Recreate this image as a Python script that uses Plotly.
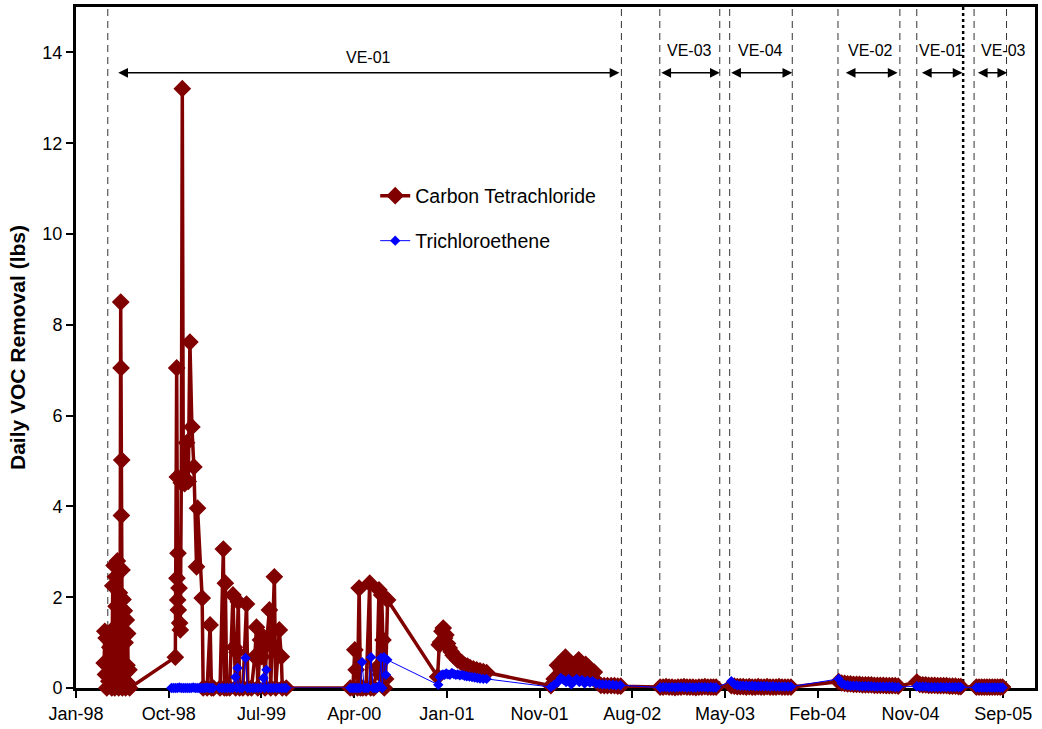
import plotly.graph_objects as go
import pandas as pd

# ---------------- Carbon tetrachloride, daily removal (lbs) ----------------
ct_dates = (
    # VE-01, spring 1998
    ["1998-03-27", "1998-03-29", "1998-03-31", "1998-04-02", "1998-04-04", "1998-04-06", "1998-04-08", "1998-04-10", "1998-04-13", "1998-04-16",
     "1998-04-19", "1998-04-22", "1998-04-24", "1998-04-26", "1998-04-28", "1998-04-30", "1998-05-02", "1998-05-04", "1998-05-06", "1998-05-08",
     "1998-05-10", "1998-05-12", "1998-05-14", "1998-05-16", "1998-05-17", "1998-05-18", "1998-05-19", "1998-05-20", "1998-05-21", "1998-05-23",
     "1998-05-25", "1998-05-27", "1998-05-29", "1998-05-31", "1998-06-02", "1998-06-04", "1998-06-06", "1998-06-08", "1998-06-10", "1998-06-12"]
    # fall 1998 - winter 1999
    + ["1998-10-28", "1998-11-01", "1998-11-02", "1998-11-03", "1998-11-04", "1998-11-05", "1998-11-06", "1998-11-08", "1998-11-10", "1998-11-12",
       "1998-11-15", "1998-11-18", "1998-11-21", "1998-11-25", "1998-12-01", "1998-12-06", "1998-12-11", "1998-12-17", "1998-12-23", "1998-12-31",
       "1999-01-03", "1999-01-17", "1999-01-20", "1999-02-01", "1999-02-10", "1999-02-14", "1999-02-20"]
    # spring - summer 1999
    + ["1999-03-12", "1999-03-22", "1999-03-25", "1999-03-28", "1999-04-01", "1999-04-10", "1999-04-20", "1999-04-24", "1999-04-28", "1999-05-02",
       "1999-05-06", "1999-05-10", "1999-05-20", "1999-05-31", "1999-06-04", "1999-06-15", "1999-06-25", "1999-06-30", "1999-07-04", "1999-07-12",
       "1999-07-16", "1999-07-22", "1999-07-26", "1999-07-30", "1999-08-08", "1999-08-12", "1999-08-23", "1999-08-27", "1999-09-07", "1999-09-13",
       "1999-09-16", "1999-09-28"]
    # spring - summer 2000
    + ["2000-04-08", "2000-04-16", "2000-04-22", "2000-04-26", "2000-04-30", "2000-05-05", "2000-05-09", "2000-05-16", "2000-05-26", "2000-06-06",
       "2000-06-09", "2000-06-18", "2000-06-28", "2000-07-04", "2000-07-08", "2000-07-12", "2000-07-16", "2000-07-20", "2000-07-24", "2000-07-30"]
    # winter 2000 - spring 2001
    + ["2000-12-28", "2001-01-02", "2001-01-06", "2001-01-10", "2001-01-14", "2001-01-18", "2001-01-22", "2001-01-27", "2001-02-01", "2001-02-07",
       "2001-02-13", "2001-02-19", "2001-02-26", "2001-03-05", "2001-03-12", "2001-03-20", "2001-03-28", "2001-04-05", "2001-04-15", "2001-04-25",
       "2001-05-05", "2001-05-15", "2001-05-25"]
    # winter 2001 - summer 2002
    + ["2001-12-05", "2001-12-15", "2001-12-25", "2002-01-05", "2002-01-12", "2002-01-18", "2002-01-24", "2002-01-30", "2002-02-05", "2002-02-12",
       "2002-02-20", "2002-02-27", "2002-03-06", "2002-03-13", "2002-03-20", "2002-03-28", "2002-04-05", "2002-04-15", "2002-04-25", "2002-05-05",
       "2002-05-15", "2002-05-25", "2002-06-05", "2002-06-15", "2002-06-25", "2002-07-04"]
    # VE-03
    + ["2002-10-31", "2002-11-09", "2002-11-18", "2002-11-27", "2002-12-06", "2002-12-15", "2002-12-24", "2003-01-02", "2003-01-11", "2003-01-20",
       "2003-01-29", "2003-02-07", "2003-02-16", "2003-02-25", "2003-03-06", "2003-03-15", "2003-03-24", "2003-04-02", "2003-04-10", "2003-04-18"]
    # VE-04
    + ["2003-06-03", "2003-06-12", "2003-06-21", "2003-06-30", "2003-07-09", "2003-07-18", "2003-07-27", "2003-08-05", "2003-08-14", "2003-08-23",
       "2003-09-01", "2003-09-10", "2003-09-19", "2003-09-28", "2003-10-07", "2003-10-16", "2003-10-25", "2003-11-03", "2003-11-12", "2003-11-21",
       "2003-11-30"]
    # VE-02
    + ["2004-04-22", "2004-05-01", "2004-05-10", "2004-05-19", "2004-05-28", "2004-06-06", "2004-06-15", "2004-06-24", "2004-07-03", "2004-07-12",
       "2004-07-21", "2004-07-30", "2004-08-08", "2004-08-17", "2004-08-26", "2004-09-04", "2004-09-13", "2004-09-22", "2004-10-01", "2004-10-10",
       "2004-10-19"]
    # VE-01
    + ["2004-12-14", "2004-12-23", "2005-01-01", "2005-01-10", "2005-01-19", "2005-01-28", "2005-02-06", "2005-02-15", "2005-02-24", "2005-03-05",
       "2005-03-14", "2005-03-23", "2005-04-01", "2005-04-10", "2005-04-19", "2005-04-26"]
    # VE-03
    + ["2005-06-12", "2005-06-20", "2005-06-28", "2005-07-06", "2005-07-14", "2005-07-22", "2005-07-30", "2005-08-07", "2005-08-15", "2005-08-23",
       "2005-08-30"]
)

ct_lbs = (
    [0.55, 1.25, 0.30, 1.10, 0.00, 0.60, 1.20, 0.15, 0.90, 1.25,
     0.00, 2.25, 0.40, 2.70, 0.00, 2.45, 1.80, 0.05, 2.80, 1.40,
     0.00, 2.10, 0.70, 8.50, 7.05, 3.80, 5.02, 2.60, 0.00, 1.95,
     0.30, 1.70, 1.00, 0.00, 1.50, 0.50, 1.20, 0.10, 0.40, 0.00]
    + [0.68, 7.05, 2.42, 4.65, 1.94, 2.97, 1.72, 2.20, 1.43, 1.28,
       4.52, 13.20, 4.60, 4.50, 5.40, 4.55, 7.62, 5.75, 4.87, 2.67,
       3.96, 1.98, 0.00, 0.00, 1.39, 0.00, 0.00]
    + [0.00, 3.06, 0.00, 2.31, 0.00, 0.00, 2.05, 0.90, 0.00, 0.79,
       1.90, 0.00, 0.00, 1.85, 0.00, 0.00, 0.69, 1.34, 0.00, 1.06,
       0.69, 1.12, 0.00, 0.95, 1.72, 0.00, 2.45, 0.00, 1.28, 0.69,
       0.00, 0.00]
    + [0.00, 0.00, 0.84, 0.40, 0.00, 2.20, 0.00, 0.00, 0.00, 2.31,
       0.00, 0.00, 0.45, 2.16, 0.30, 2.05, 1.06, 0.00, 0.20, 1.94]
    + [0.25, 0.95, 1.01, 1.25, 1.32, 1.10, 1.17, 0.98, 0.88, 0.80,
       0.72, 0.68, 0.62, 0.60, 0.55, 0.50, 0.48, 0.45, 0.42, 0.40,
       0.38, 0.36, 0.34]
    + [0.05, 0.20, 0.50, 0.40, 0.62, 0.68, 0.45, 0.30, 0.20, 0.35,
       0.55, 0.62, 0.40, 0.35, 0.52, 0.46, 0.30, 0.35, 0.12, 0.06,
       0.05, 0.05, 0.05, 0.05, 0.04, 0.04]
    + [0.02, 0.02, 0.03, 0.02, 0.02, 0.01, 0.02, 0.02, 0.03, 0.02,
       0.02, 0.02, 0.01, 0.02, 0.02, 0.03, 0.02, 0.02, 0.02, 0.02]
    + [0.05, 0.04, 0.03, 0.03, 0.03, 0.02, 0.03, 0.02, 0.02, 0.03,
       0.02, 0.02, 0.03, 0.02, 0.02, 0.02, 0.03, 0.02, 0.02, 0.02,
       0.02]
    + [0.14, 0.11, 0.10, 0.09, 0.09, 0.08, 0.08, 0.08, 0.07, 0.07,
       0.07, 0.07, 0.06, 0.06, 0.06, 0.06, 0.05, 0.05, 0.05, 0.05,
       0.04]
    + [0.13, 0.08, 0.07, 0.07, 0.06, 0.06, 0.06, 0.05, 0.05, 0.05,
       0.05, 0.04, 0.04, 0.04, 0.03, 0.03]
    + [0.02, 0.02, 0.02, 0.02, 0.02, 0.02, 0.02, 0.02, 0.02, 0.02,
       0.02]
)

# ---------------- Trichloroethene, daily removal (lbs) ----------------
tce_dates = (
    ["1998-10-16", "1998-10-22", "1998-10-28", "1998-11-03", "1998-11-09", "1998-11-15", "1998-11-21", "1998-11-27", "1998-12-03", "1998-12-09",
     "1998-12-15", "1998-12-21", "1998-12-27", "1999-01-02", "1999-01-08", "1999-01-14", "1999-01-20", "1999-01-26", "1999-02-01", "1999-02-07",
     "1999-02-13", "1999-02-19"]
    + ["1999-03-10", "1999-03-18", "1999-03-26", "1999-04-03", "1999-04-11", "1999-04-19", "1999-04-27", "1999-05-01", "1999-05-04", "1999-05-10",
       "1999-05-18", "1999-05-28", "1999-06-03", "1999-06-11", "1999-06-19", "1999-06-27", "1999-07-05", "1999-07-13", "1999-07-21", "1999-07-25",
       "1999-07-30", "1999-08-05", "1999-08-13", "1999-08-21", "1999-08-29", "1999-09-06", "1999-09-14", "1999-09-22", "1999-09-28"]
    + ["2000-04-08", "2000-04-14", "2000-04-20", "2000-04-26", "2000-05-02", "2000-05-08", "2000-05-14", "2000-05-20", "2000-05-26", "2000-06-01",
       "2000-06-10", "2000-06-16", "2000-06-22", "2000-06-28", "2000-07-04", "2000-07-10", "2000-07-14", "2000-07-19", "2000-07-25", "2000-07-29"]
    + ["2000-12-30", "2001-01-03", "2001-01-08", "2001-01-13", "2001-01-18", "2001-01-23", "2001-01-28", "2001-02-03", "2001-02-09", "2001-02-15",
       "2001-02-21", "2001-02-27", "2001-03-05", "2001-03-12", "2001-03-19", "2001-03-26", "2001-04-03", "2001-04-11", "2001-04-19", "2001-04-27",
       "2001-05-05", "2001-05-15", "2001-05-25"]
    + ["2001-12-05", "2001-12-15", "2001-12-25", "2002-01-04", "2002-01-12", "2002-01-20", "2002-01-28", "2002-02-05", "2002-02-13", "2002-02-21",
       "2002-03-01", "2002-03-09", "2002-03-17", "2002-03-25", "2002-04-02", "2002-04-10", "2002-04-20", "2002-04-30", "2002-05-10", "2002-05-20",
       "2002-05-30", "2002-06-10", "2002-06-20", "2002-07-03"]
    + ["2002-10-31", "2002-11-09", "2002-11-18", "2002-11-27", "2002-12-06", "2002-12-15", "2002-12-24", "2003-01-02", "2003-01-11", "2003-01-20",
       "2003-01-29", "2003-02-07", "2003-02-16", "2003-02-25", "2003-03-06", "2003-03-15", "2003-03-24", "2003-04-02", "2003-04-10", "2003-04-18"]
    + ["2003-06-03", "2003-06-12", "2003-06-21", "2003-06-30", "2003-07-09", "2003-07-18", "2003-07-27", "2003-08-05", "2003-08-14", "2003-08-23",
       "2003-09-01", "2003-09-10", "2003-09-19", "2003-09-28", "2003-10-07", "2003-10-16", "2003-10-25", "2003-11-03", "2003-11-12", "2003-11-21",
       "2003-11-30"]
    + ["2004-04-22", "2004-05-01", "2004-05-10", "2004-05-19", "2004-05-28", "2004-06-06", "2004-06-15", "2004-06-24", "2004-07-03", "2004-07-12",
       "2004-07-21", "2004-07-30", "2004-08-08", "2004-08-17", "2004-08-26", "2004-09-04", "2004-09-13", "2004-09-22", "2004-10-01", "2004-10-10",
       "2004-10-19"]
    + ["2004-12-14", "2004-12-23", "2005-01-01", "2005-01-10", "2005-01-19", "2005-01-28", "2005-02-06", "2005-02-15", "2005-02-24", "2005-03-05",
       "2005-03-14", "2005-03-23", "2005-04-01", "2005-04-10", "2005-04-19", "2005-04-26"]
    + ["2005-06-12", "2005-06-20", "2005-06-28", "2005-07-06", "2005-07-14", "2005-07-22", "2005-07-30", "2005-08-07", "2005-08-15", "2005-08-23",
       "2005-08-30"]
)

tce_lbs = (
    [0.00, 0.00, 0.00, 0.00, 0.01, 0.00, 0.00, 0.00, 0.00, 0.00,
     0.00, 0.01, 0.00, 0.00, 0.00, 0.00, 0.00, 0.00, 0.01, 0.00,
     0.00, 0.00]
    + [0.00, 0.00, 0.00, 0.00, 0.00, 0.00, 0.24, 0.00, 0.44, 0.00,
       0.00, 0.66, 0.00, 0.00, 0.00, 0.00, 0.00, 0.00, 0.22, 0.00,
       0.40, 0.00, 0.00, 0.00, 0.00, 0.00, 0.00, 0.00, 0.00]
    + [0.00, 0.00, 0.00, 0.00, 0.00, 0.00, 0.57, 0.00, 0.00, 0.00,
       0.68, 0.00, 0.00, 0.00, 0.05, 0.66, 0.00, 0.68, 0.29, 0.62]
    + [0.07, 0.24, 0.28, 0.30, 0.29, 0.32, 0.30, 0.29, 0.33, 0.31,
       0.29, 0.30, 0.28, 0.29, 0.27, 0.26, 0.25, 0.24, 0.23, 0.22,
       0.21, 0.20, 0.20]
    + [0.02, 0.07, 0.12, 0.22, 0.18, 0.13, 0.20, 0.08, 0.15, 0.20,
       0.13, 0.18, 0.10, 0.16, 0.12, 0.15, 0.10, 0.09, 0.08, 0.08,
       0.07, 0.07, 0.06, 0.06]
    + [0.01, 0.02, 0.02, 0.01, 0.02, 0.01, 0.02, 0.02, 0.02, 0.01,
       0.02, 0.01, 0.01, 0.02, 0.02, 0.02, 0.01, 0.02, 0.01, 0.01]
    + [0.15, 0.08, 0.06, 0.05, 0.05, 0.05, 0.04, 0.05, 0.04, 0.04,
       0.04, 0.04, 0.04, 0.03, 0.04, 0.03, 0.03, 0.03, 0.03, 0.03,
       0.03]
    + [0.20, 0.10, 0.07, 0.06, 0.05, 0.05, 0.05, 0.04, 0.04, 0.04,
       0.04, 0.04, 0.03, 0.03, 0.03, 0.03, 0.03, 0.03, 0.03, 0.02,
       0.02]
    + [0.04, 0.03, 0.03, 0.03, 0.02, 0.02, 0.02, 0.02, 0.02, 0.02,
       0.02, 0.02, 0.02, 0.02, 0.02, 0.02]
    + [0.01, 0.01, 0.01, 0.01, 0.01, 0.01, 0.01, 0.01, 0.01, 0.01,
       0.01]
)

assert len(ct_dates) == len(ct_lbs)
assert len(tce_dates) == len(tce_lbs)

# ---------------- Extraction well operating periods ----------------
boundary_dates = ["1998-04-07", "2002-07-06", "2002-10-30", "2003-04-29", "2003-05-29",
                  "2003-12-04", "2004-04-20", "2004-10-24", "2004-12-14", "2005-06-05",
                  "2005-09-11"]
switch_date = "2005-05-03"   # well changeover marked with a dotted line

phase_names = ["VE-01", "VE-03", "VE-04", "VE-02", "VE-01", "VE-03"]
phase_start = ["1998-05-04", "2002-10-30", "2003-05-29", "2004-05-09", "2004-12-25", "2005-06-12"]
phase_end = ["2002-06-30", "2003-04-29", "2003-12-04", "2004-10-17", "2005-05-01", "2005-09-13"]

# ---------------- Figure ----------------
FONT = "Liberation Sans, Arial, Helvetica, sans-serif"
ARROW_Y = 13.55
LABEL_Y = [13.88, 14.05, 14.05, 14.05, 14.05, 14.05]
LABEL_SHIFT = [0, 0, 0, 0, 0, 12]

fig = go.Figure()

fig.add_trace(go.Scatter(
    x=ct_dates, y=ct_lbs, mode="lines+markers", name="Carbon Tetrachloride",
    line=dict(color="#800000", width=3.5),
    marker=dict(symbol="diamond", size=12, color="#800000", line=dict(color="#800000", width=1.5)),
    cliponaxis=False, legend="legend", showlegend=True,
))
fig.add_trace(go.Scatter(
    x=tce_dates, y=tce_lbs, mode="lines+markers", name="Trichloroethene",
    line=dict(color="#0000FF", width=1),
    marker=dict(symbol="diamond", size=8, color="#0000FF"),
    cliponaxis=False, legend="legend2", showlegend=True,
))

shapes = []
for d in boundary_dates:
    shapes.append(dict(type="line", xref="x", yref="paper", x0=d, x1=d, y0=0, y1=1,
                       line=dict(color="#333333", width=1, dash="7px,5px"), layer="below"))
shapes.append(dict(type="line", xref="x", yref="paper", x0=switch_date, x1=switch_date, y0=0, y1=1,
                   line=dict(color="black", width=2.5, dash="3px,3px"), layer="below"))

annotations = []
for name, s, e, ly, sh in zip(phase_names, phase_start, phase_end, LABEL_Y, LABEL_SHIFT):
    annotations.append(dict(x=e, y=ARROW_Y, ax=s, ay=ARROW_Y, xref="x", yref="y", axref="x", ayref="y",
                            text="", showarrow=True, arrowhead=2, arrowside="end+start",
                            arrowsize=1.3, arrowwidth=1.5, arrowcolor="black"))
    mid = pd.Timestamp(s) + (pd.Timestamp(e) - pd.Timestamp(s)) / 2
    annotations.append(dict(x=mid.strftime("%Y-%m-%d"), y=ly, xref="x", yref="y", text=name,
                            showarrow=False, xshift=sh, font=dict(family=FONT, size=16, color="black")))

legend_style = dict(xanchor="left", yanchor="middle", bgcolor="rgba(0,0,0,0)",
                    font=dict(family=FONT, size=19.5, color="black"))

fig.update_layout(
    width=1042, height=729,
    margin=dict(l=76, r=4, t=7, b=41),
    paper_bgcolor="white", plot_bgcolor="white",
    font=dict(family=FONT, size=18, color="black"),
    showlegend=True,
    shapes=shapes, annotations=annotations,
    legend=dict(x=0.312, y=0.7225, **legend_style),
    legend2=dict(x=0.312, y=0.6564, **legend_style),
    xaxis=dict(type="date", range=["1998-01-01", "2005-12-06"],
               tick0="1998-01-01", dtick=280 * 86400000, tickformat="%b-%y",
               ticks="outside", ticklen=7, tickwidth=2, tickcolor="black",
               showline=True, linewidth=3, linecolor="black", mirror=True,
               showgrid=False, zeroline=False, layer="below traces",
               tickfont=dict(family=FONT, size=18, color="black")),
    yaxis=dict(range=[0, 15], tick0=0, dtick=2,
               ticks="outside", ticklen=7, tickwidth=2, tickcolor="black",
               showline=True, linewidth=3, linecolor="black", mirror=True,
               showgrid=False, zeroline=False, layer="below traces",
               tickfont=dict(family=FONT, size=18, color="black"),
               title=dict(text="<b>Daily VOC Removal (lbs)</b>", standoff=12,
                          font=dict(family=FONT, size=21, color="black"))),
)

fig.write_html("out.html")
